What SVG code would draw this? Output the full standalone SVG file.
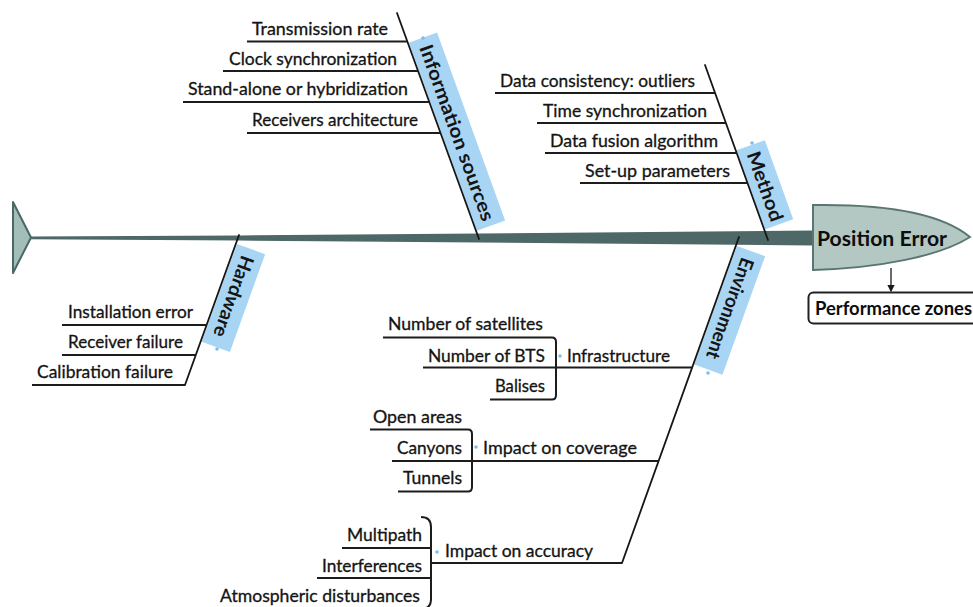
<svg xmlns="http://www.w3.org/2000/svg" width="973" height="607" viewBox="0 0 973 607">
  <defs>
    <style>
      .lbl { font-family: Lato, "Liberation Sans", sans-serif; font-size: 17px; fill: #141414; stroke: #141414; stroke-width: 0.3; }
      .cat { font-family: Lato, "Liberation Sans", sans-serif; font-size: 19px; font-weight: bold; fill: #141414; }
      .head-txt { font-family: Lato, "Liberation Sans", sans-serif; font-weight: bold; fill: #0d0d0d; }
      .cat-box { fill: #a8d5f3; }
      .bone { stroke: #161616; stroke-width: 1.8; fill: none; stroke-linecap: round; }
      .uline { stroke: #1c1c1c; stroke-width: 2; fill: none; }
      .dot { fill: #7fbde9; }
    </style>
    <marker id="arrow" viewBox="0 0 6 6" refX="5" refY="3" markerWidth="6" markerHeight="6" orient="auto">
      <path d="M0,0 L6,3 L0,6 Z" fill="#1a1a1a"/>
    </marker>
  </defs>
  <rect width="973" height="607" fill="#ffffff"/>

  <!-- fish tail -->
  <g id="tail">
    <polygon points="13,202 31,237.5 13,273" fill="#a3beb9" stroke="#4a6866" stroke-width="2" stroke-linejoin="round"/>
  </g>

  <!-- tapered spine -->
  <g id="spine">
    <polygon points="30,236.6 240,235.4 480,233.4 813,230.5 813,245.5 480,242.6 240,240.6 30,239.2" fill="#4d6866"/>
  </g>

  <!-- fish head: effect -->
  <g id="head">
    <path d="M813,205 C880,204 940,212 970,237 C940,256 880,268 813,270 Z" fill="#b4c8c3" stroke="#5b7672" stroke-width="2"/>
    <text class="head-txt" x="817" y="246" font-size="20" textLength="130" lengthAdjust="spacingAndGlyphs">Position Error</text>
  </g>

  <g id="performance-zones">
    <rect x="808.5" y="292.5" width="180" height="31" rx="5" fill="#ffffff" stroke="#222222" stroke-width="2"/>
    <text class="head-txt" x="815" y="315" font-size="18" textLength="157" lengthAdjust="spacingAndGlyphs">Performance zones</text>
  </g>

  <!-- category labels along the bones -->
  <g id="cat-information-sources" transform="translate(397,13) rotate(70.1)">
    <rect class="cat-box" x="32" y="-31" width="200" height="30"/>
    <text class="cat" x="40" y="-9" textLength="186" lengthAdjust="spacingAndGlyphs">Information sources</text>
  </g>
  <g id="cat-method" transform="translate(705,65) rotate(70.3)">
    <rect class="cat-box" x="91" y="-31" width="84" height="30"/>
    <text class="cat" x="98" y="-9" textLength="73" lengthAdjust="spacingAndGlyphs">Method</text>
  </g>
  <g id="cat-hardware" transform="translate(238,238) rotate(109.8)">
    <rect class="cat-box" x="6" y="-31" width="104" height="30"/>
    <text class="cat" x="14" y="-9" textLength="85" lengthAdjust="spacingAndGlyphs">Hardware</text>
  </g>
  <g id="cat-environment" transform="translate(738,240) rotate(109.8)">
    <rect class="cat-box" x="6" y="-31" width="126" height="30"/>
    <text class="cat" x="14" y="-9" textLength="106" lengthAdjust="spacingAndGlyphs">Environment</text>
  </g>

  <!-- bones, underlines and brackets -->
  <g id="connectors">
    <line class="bone" x1="397" y1="13" x2="479" y2="239"/>
    <line class="bone" x1="705" y1="65" x2="768" y2="240"/>
    <line class="bone" x1="239" y1="235" x2="185" y2="385"/>
    <line class="bone" x1="739" y1="237" x2="622" y2="563"/>

    <!-- information sources -->
    <line class="uline" x1="247" y1="41.5" x2="407" y2="41.5"/>
    <line class="uline" x1="223" y1="71" x2="418" y2="71"/>
    <line class="uline" x1="183" y1="102" x2="429" y2="102"/>
    <line class="uline" x1="247" y1="133" x2="440" y2="133"/>

    <!-- method -->
    <line class="uline" x1="495" y1="93" x2="715" y2="93"/>
    <line class="uline" x1="537" y1="123" x2="726" y2="123"/>
    <line class="uline" x1="545" y1="153" x2="737" y2="153"/>
    <line class="uline" x1="580" y1="183" x2="747" y2="183"/>

    <!-- hardware -->
    <line class="uline" x1="62" y1="325" x2="207" y2="325"/>
    <line class="uline" x1="62" y1="355" x2="196" y2="355"/>
    <line class="uline" x1="32" y1="385" x2="185" y2="385"/>

    <!-- environment: infrastructure -->
    <line class="uline" x1="383" y1="337.5" x2="552" y2="337.5"/>
    <line class="uline" x1="423" y1="367.5" x2="556" y2="367.5"/>
    <line class="uline" x1="490" y1="399.5" x2="552" y2="399.5"/>
    <path class="uline" d="M552,337.5 Q556,337.5 556,342 L556,395 Q556,399.5 552,399.5"/>
    <line class="uline" x1="556" y1="367.5" x2="692" y2="367.5"/>

    <!-- environment: impact on coverage -->
    <line class="uline" x1="370" y1="429.5" x2="468" y2="429.5"/>
    <line class="uline" x1="392" y1="461" x2="472" y2="461"/>
    <line class="uline" x1="398" y1="491.5" x2="468" y2="491.5"/>
    <path class="uline" d="M468,429.5 Q472,429.5 472,434 L472,487 Q472,491.5 468,491.5"/>
    <line class="uline" x1="472" y1="461" x2="659" y2="461"/>

    <!-- environment: impact on accuracy -->
    <line class="uline" x1="342" y1="548" x2="431" y2="548"/>
    <line class="uline" x1="317" y1="578" x2="431" y2="578"/>
    <path class="uline" d="M421,517 Q431,517 431,527 L431,599 Q431,609 421,609"/>
    <line class="uline" x1="431" y1="563" x2="622" y2="563"/>

    <!-- head to performance zones -->
    <line x1="891" y1="268" x2="891" y2="291" stroke="#1a1a1a" stroke-width="1.3" marker-end="url(#arrow)"/>
  </g>

  <!-- cause labels -->
  <g id="labels-information-sources">
    <text class="lbl" x="252" y="35" textLength="136" lengthAdjust="spacingAndGlyphs">Transmission rate</text>
    <text class="lbl" x="229" y="65" textLength="168" lengthAdjust="spacingAndGlyphs">Clock synchronization</text>
    <text class="lbl" x="188" y="95" textLength="220" lengthAdjust="spacingAndGlyphs">Stand-alone or hybridization</text>
    <text class="lbl" x="252" y="126" textLength="166" lengthAdjust="spacingAndGlyphs">Receivers architecture</text>
  </g>
  <g id="labels-method">
    <text class="lbl" x="500" y="87" textLength="195" lengthAdjust="spacingAndGlyphs">Data consistency: outliers</text>
    <text class="lbl" x="543" y="117" textLength="164" lengthAdjust="spacingAndGlyphs">Time synchronization</text>
    <text class="lbl" x="550" y="147" textLength="168" lengthAdjust="spacingAndGlyphs">Data fusion algorithm</text>
    <text class="lbl" x="585" y="177" textLength="145" lengthAdjust="spacingAndGlyphs">Set-up parameters</text>
  </g>
  <g id="labels-hardware">
    <text class="lbl" x="68" y="318" textLength="125" lengthAdjust="spacingAndGlyphs">Installation error</text>
    <text class="lbl" x="68" y="348" textLength="115" lengthAdjust="spacingAndGlyphs">Receiver failure</text>
    <text class="lbl" x="37" y="378" textLength="136" lengthAdjust="spacingAndGlyphs">Calibration failure</text>
  </g>
  <g id="labels-infrastructure">
    <text class="lbl" x="388" y="330" textLength="155" lengthAdjust="spacingAndGlyphs">Number of satellites</text>
    <text class="lbl" x="428" y="362" textLength="117" lengthAdjust="spacingAndGlyphs">Number of BTS</text>
    <text class="lbl" x="495" y="392" textLength="50" lengthAdjust="spacingAndGlyphs">Balises</text>
    <text class="lbl" x="567" y="362" textLength="103" lengthAdjust="spacingAndGlyphs">Infrastructure</text>
  </g>
  <g id="labels-coverage">
    <text class="lbl" x="373" y="423" textLength="89" lengthAdjust="spacingAndGlyphs">Open areas</text>
    <text class="lbl" x="397" y="454" textLength="65" lengthAdjust="spacingAndGlyphs">Canyons</text>
    <text class="lbl" x="403" y="484" textLength="59" lengthAdjust="spacingAndGlyphs">Tunnels</text>
    <text class="lbl" x="483" y="454" textLength="154" lengthAdjust="spacingAndGlyphs">Impact on coverage</text>
  </g>
  <g id="labels-accuracy">
    <text class="lbl" x="347" y="541" textLength="75" lengthAdjust="spacingAndGlyphs">Multipath</text>
    <text class="lbl" x="322" y="572" textLength="100" lengthAdjust="spacingAndGlyphs">Interferences</text>
    <text class="lbl" x="220" y="602" textLength="200" lengthAdjust="spacingAndGlyphs">Atmospheric disturbances</text>
    <text class="lbl" x="445" y="557" textLength="148" lengthAdjust="spacingAndGlyphs">Impact on accuracy</text>
  </g>

  <!-- collapse markers -->
  <g id="markers">
    <circle class="dot" cx="423" cy="38" r="1.8"/>
    <circle class="dot" cx="752" cy="143" r="1.8"/>
    <circle class="dot" cx="217" cy="349" r="1.8"/>
    <circle class="dot" cx="708" cy="373" r="1.8"/>
    <circle class="dot" cx="560" cy="356" r="1.8"/>
    <circle class="dot" cx="476" cy="447" r="1.8"/>
    <circle class="dot" cx="437" cy="552" r="1.8"/>
  </g>
</svg>
